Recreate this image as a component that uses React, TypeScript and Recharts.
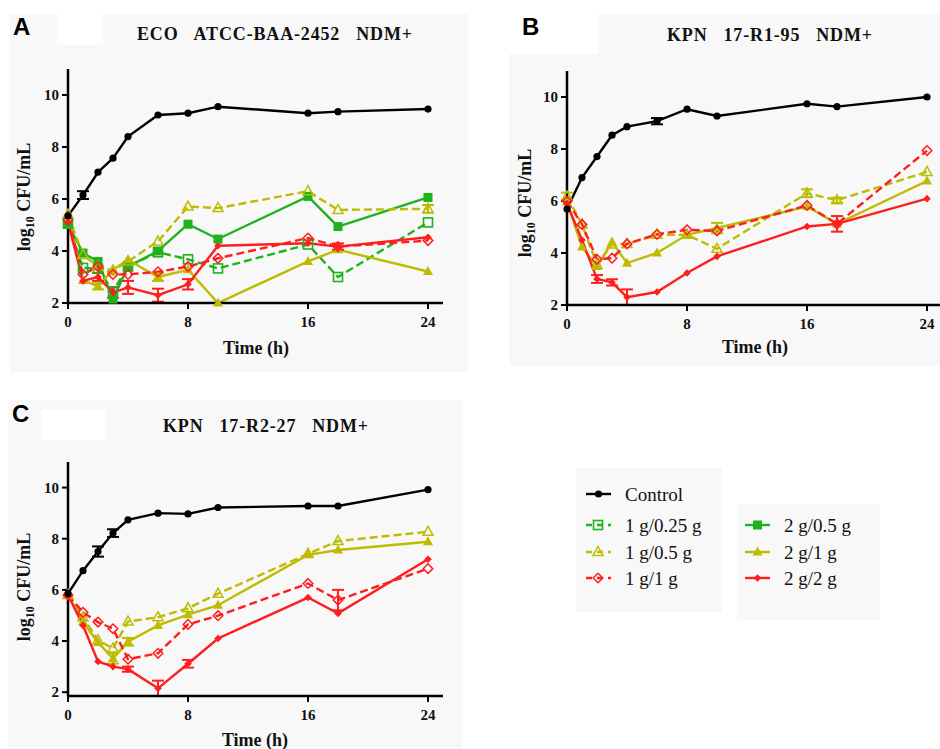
import React from 'react';
import { LineChart, Line, XAxis, YAxis, ErrorBar } from 'recharts';

// ---------- data ----------
const times = [0, 1, 2, 3, 4, 6, 8, 10, 16, 18, 24];
const xTicks = [0, 8, 16, 24];
const yTicks = [2, 4, 6, 8, 10];
const seriesNames = ['Control', '1 g/0.25 g', '1 g/0.5 g', '1 g/1 g', '2 g/0.5 g', '2 g/1 g', '2 g/2 g'];
const panelTitles = ['ECO   ATCC-BAA-2452   NDM+', 'KPN   17-R1-95   NDM+', 'KPN   17-R2-27   NDM+'];

// Panel A (ECO ATCC-BAA-2452)
const aControl = [5.35, 6.15, 7.03, 7.57, 8.4, 9.23, 9.3, 9.55, 9.3, 9.36, 9.46];
const a1g025 = [5.05, 3.35, 3.32, 2.45, 3.4, 3.95, 3.68, 3.33, 4.25, 3.0, 5.1];
const a1g05 = [5.4, 3.85, 3.4, 3.25, 3.6, 4.37, 5.71, 5.65, 6.3, 5.58, 5.62];
const a1g1 = [5.2, 3.1, 3.4, 3.1, 3.1, 3.2, 3.4, 3.72, 4.5, 4.17, 4.4];
const a2g05 = [5.05, 3.92, 3.6, 2.15, 3.4, 4.0, 5.03, 4.46, 6.1, 4.94, 6.06];
const a2g1 = [5.3, 2.87, 2.64, 3.28, 3.66, 3.0, 3.28, 2.0, 3.6, 4.05, 3.21];
const a2g2 = [5.1, 2.85, 3.0, 2.4, 2.6, 2.3, 2.72, 4.2, 4.3, 4.17, 4.53];
const aControlErr = [null, 0.15, null, null, null, null, null, null, null, null, null];
const a1g05Err = [null, null, null, null, null, null, null, null, null, null, 0.15];
const a2g1Err = [null, null, 0.12, null, null, 0.15, null, null, null, null, null];
const a2g2Err = [null, null, 0.15, 0.2, 0.25, 0.25, 0.2, null, null, 0.12, null];

// Panel B (KPN 17-R1-95)
const bControl = [5.69, 6.9, 7.71, 8.53, 8.86, 9.07, 9.53, 9.27, 9.74, 9.63, 10.0];
const b1g05 = [6.17, 5.1, 3.55, 4.33, 4.35, 4.7, 4.7, 4.16, 6.3, 6.03, 7.12];
const b1g1 = [6.0, 5.1, 3.76, 3.8, 4.35, 4.72, 4.89, 4.85, 5.83, 5.12, 7.94];
const b2g1 = [5.95, 4.23, 3.48, 4.42, 3.61, 4.0, 4.7, 4.96, 5.79, 5.12, 6.77];
const b2g2 = [5.9, 4.5, 3.0, 2.87, 2.3, 2.5, 3.23, 3.87, 5.02, 5.12, 6.09];
const bControlErr = [null, null, null, null, null, 0.12, null, null, null, null, null];
const b1g05Err = [0.15, null, null, null, null, null, null, null, 0.15, 0.1, null];
const b2g1Err = [null, null, null, null, null, null, null, 0.2, null, null, null];
const b2g2Err = [null, null, 0.15, 0.12, 0.3, null, null, null, null, 0.3, null];

// Panel C (KPN 17-R2-27)
const cControl = [5.85, 6.75, 7.5, 8.22, 8.74, 9.0, 8.97, 9.22, 9.28, 9.28, 9.92];
const c1g05 = [5.8, 4.93, 4.03, 3.71, 4.76, 4.93, 5.28, 5.85, 7.41, 7.91, 8.27];
const c1g1 = [5.8, 5.12, 4.74, 4.48, 3.29, 3.52, 4.65, 4.99, 6.25, 5.6, 6.83];
const c2g1 = [5.8, 4.74, 3.94, 3.32, 3.97, 4.61, 5.03, 5.4, 7.37, 7.56, 7.88];
const c2g2 = [5.8, 4.61, 3.2, 3.0, 2.9, 2.15, 3.11, 4.1, 5.7, 5.08, 7.2];
const cControlErr = [null, null, 0.2, 0.15, null, null, null, null, null, null, null];
const c1g1Err = [null, null, null, null, null, null, null, null, null, 0.4, null];
const c2g1Err = [null, null, null, 0.2, 0.15, null, null, null, null, null, null];
const c2g2Err = [null, null, null, null, 0.1, 0.3, 0.15, null, null, null, null];

// ---------- styles ----------
const GREEN = '#1fb21f';
const YELLOW = '#bdbc00';
const RED = '#ff1e1e';
const BLACK = '#000000';
const SERIF = '"Liberation Serif", "Times New Roman", serif';
const SANS = '"Liberation Sans", Arial, sans-serif';
const BG = '#f8f8f8';

type Kind = 'circle' | 'square' | 'squareOpen' | 'triangle' | 'triangleOpen' | 'diamond' | 'diamondOpen';
const styleOf: Record<string, { color: string; dashed: boolean; kind: Kind }> = {
  control: { color: BLACK, dashed: false, kind: 'circle' },
  g1q: { color: GREEN, dashed: true, kind: 'squareOpen' },
  g1h: { color: YELLOW, dashed: true, kind: 'triangleOpen' },
  g11: { color: RED, dashed: true, kind: 'diamondOpen' },
  g2h: { color: GREEN, dashed: false, kind: 'square' },
  g21: { color: YELLOW, dashed: false, kind: 'triangle' },
  g22: { color: RED, dashed: false, kind: 'diamond' },
};
const keyOrder = ['control', 'g1q', 'g1h', 'g11', 'g2h', 'g21', 'g22'];

function Marker({ cx, cy, kind, color }: { cx: number; cy: number; kind: Kind; color: string }) {
  if (cx == null || cy == null || isNaN(cx) || isNaN(cy)) return null;
  switch (kind) {
    case 'circle':
      return <circle cx={cx} cy={cy} r={3.6} fill={color} />;
    case 'square':
      return <rect x={cx - 4.5} y={cy - 4.5} width={9} height={9} fill={color} />;
    case 'squareOpen':
      return <rect x={cx - 4.5} y={cy - 4.5} width={9} height={9} fill="none" stroke={color} strokeWidth={1.6} />;
    case 'triangle':
      return <polygon points={`${cx},${cy - 5.5} ${cx + 5},${cy + 3.5} ${cx - 5},${cy + 3.5}`} fill={color} />;
    case 'triangleOpen':
      return <polygon points={`${cx},${cy - 5.5} ${cx + 5},${cy + 3.5} ${cx - 5},${cy + 3.5}`} fill="none" stroke={color} strokeWidth={1.5} />;
    case 'diamond':
      return <polygon points={`${cx},${cy - 3.8} ${cx + 3.8},${cy} ${cx},${cy + 3.8} ${cx - 3.8},${cy}`} fill={color} />;
    case 'diamondOpen':
      return <polygon points={`${cx},${cy - 4.8} ${cx + 4.8},${cy} ${cx},${cy + 4.8} ${cx - 4.8},${cy}`} fill="none" stroke={color} strokeWidth={1.5} />;
  }
  return null;
}

type SeriesDef = { key: string; values: (number | null)[]; err?: (number | null)[] };

function buildRows(series: SeriesDef[]) {
  return times.map((t, i) => {
    const row: Record<string, number | null> = { t };
    series.forEach((s) => {
      row[s.key] = s.values[i];
      row[s.key + 'Err'] = s.err ? s.err[i] : null;
    });
    return row;
  });
}

const tickStyle = { fontFamily: SERIF, fontSize: 15, fontWeight: 700, fill: '#111' };

function Panel({ series, plotLeft, plotTop, plotW, plotH }: { series: SeriesDef[]; plotLeft: number; plotTop: number; plotW: number; plotH: number }) {
  const ml = 68, mt = 10, mr = 10, mb = 40, xh = 30;
  const rows = buildRows(series);
  return (
    <div style={{ position: 'absolute', left: plotLeft - ml, top: plotTop - mt }}>
      <LineChart width={ml + plotW + mr} height={mt + plotH + mb} data={rows} margin={{ top: mt, right: mr, left: 0, bottom: mb - xh }}>
        <XAxis
          dataKey="t"
          type="number"
          domain={[0, 25]}
          ticks={xTicks}
          interval={0}
          height={xh}
          axisLine={{ stroke: '#000', strokeWidth: 2.5 }}
          tickLine={{ stroke: '#000', strokeWidth: 2 }}
          tickSize={6}
          tickMargin={7}
          tick={tickStyle}
        />
        <YAxis
          type="number"
          domain={[2, 11]}
          ticks={yTicks}
          interval={0}
          width={ml}
          axisLine={{ stroke: '#000', strokeWidth: 2.5 }}
          tickLine={{ stroke: '#000', strokeWidth: 2 }}
          tickSize={6}
          tickMargin={3}
          tick={tickStyle}
        />
        {series.map((s) => {
          const st = styleOf[s.key];
          return (
            <Line
              key={s.key}
              dataKey={s.key}
              type="linear"
              stroke={st.color}
              strokeWidth={2.4}
              strokeDasharray={st.dashed ? '8 4' : undefined}
              isAnimationActive={false}
              activeDot={false}
              dot={(p: any) => <Marker key={`${s.key}-${p.index}`} cx={p.cx} cy={p.cy} kind={st.kind} color={st.color} />}
            >
              {s.err ? (
                <ErrorBar dataKey={s.key + 'Err'} width={6} strokeWidth={2} stroke={st.color} direction="y" isAnimationActive={false} />
              ) : null}
            </Line>
          );
        })}
      </LineChart>
    </div>
  );
}

const seriesA: SeriesDef[] = [
  { key: 'g1q', values: a1g025 },
  { key: 'g2h', values: a2g05 },
  { key: 'g21', values: a2g1, err: a2g1Err },
  { key: 'g1h', values: a1g05, err: a1g05Err },
  { key: 'g22', values: a2g2, err: a2g2Err },
  { key: 'g11', values: a1g1 },
  { key: 'control', values: aControl, err: aControlErr },
];
const seriesB: SeriesDef[] = [
  { key: 'g21', values: b2g1, err: b2g1Err },
  { key: 'g1h', values: b1g05, err: b1g05Err },
  { key: 'g22', values: b2g2, err: b2g2Err },
  { key: 'g11', values: b1g1 },
  { key: 'control', values: bControl, err: bControlErr },
];
const seriesC: SeriesDef[] = [
  { key: 'g21', values: c2g1, err: c2g1Err },
  { key: 'g1h', values: c1g05 },
  { key: 'g22', values: c2g2, err: c2g2Err },
  { key: 'g11', values: c1g1, err: c1g1Err },
  { key: 'control', values: cControl, err: cControlErr },
];

function YLabel({ x, y }: { x: number; y: number }) {
  return (
    <text transform={`translate(${x},${y}) rotate(-90)`} textAnchor="middle" fontFamily={SERIF} fontWeight={700} fontSize={18} fill="#111">
      log<tspan fontSize={12} dy={4}>10</tspan>
      <tspan dy={-4}> CFU/mL</tspan>
    </text>
  );
}

function Title({ x, y, w, label }: { x: number; y: number; w: number; label: string }) {
  return (
    <text x={x} y={y} textLength={w} lengthAdjust="spacing" fontFamily={SERIF} fontWeight={700} fontSize={18} fill="#111" style={{ whiteSpace: 'pre' }}>
      {label}
    </text>
  );
}

function LegendItem({ x, y, k, label }: { x: number; y: number; k: string; label: string }) {
  const st = styleOf[k];
  return (
    <g>
      <line x1={x} y1={y} x2={x + 25} y2={y} stroke={st.color} strokeWidth={2.4} strokeDasharray={st.dashed ? '6 5' : undefined} />
      <Marker cx={st.dashed ? x + 12 : x + 12.5} cy={y} kind={st.kind} color={st.color} />
      <text x={x + 39} y={y + 7} fontFamily={SERIF} fontSize={19} fill="#111">{label}</text>
    </g>
  );
}

export default function App() {
  return (
    <div style={{ position: 'absolute', left: 0, top: 0, width: 940, height: 749, overflow: 'hidden', background: '#fff' }}>
      <svg width={940} height={749} style={{ position: 'absolute', left: 0, top: 0 }}>
        <rect x={10} y={14} width={458} height={358} fill={BG} />
        <rect x={57} y={14} width={46} height={31} fill="#fff" />
        <rect x={598} y={14} width={342} height={40} fill={BG} />
        <rect x={509} y={54} width={431} height={312} fill={BG} />
        <rect x={8} y={400} width={454} height={349} fill={BG} />
        <rect x={41} y={410} width={64} height={30} fill="#fff" />
        <rect x={576} y={468} width={146} height={144} fill={BG} />
        <rect x={737} y={504} width={143} height={116} fill={BG} />
      </svg>
      <Panel series={seriesA} plotLeft={68} plotTop={69} plotW={375} plotH={234} />
      <Panel series={seriesB} plotLeft={567} plotTop={71} plotW={375} plotH={234} />
      <Panel series={seriesC} plotLeft={68} plotTop={462} plotW={375} plotH={234} />
      <svg width={940} height={749} style={{ position: 'absolute', left: 0, top: 0, pointerEvents: 'none' }}>
        <text x={13} y={35} fontFamily={SANS} fontWeight={700} fontSize={24} fill="#000">A</text>
        <text x={522} y={35} fontFamily={SANS} fontWeight={700} fontSize={24} fill="#000">B</text>
        <text x={12} y={422} fontFamily={SANS} fontWeight={700} fontSize={24} fill="#000">C</text>
        <Title x={137} y={40} w={275} label={panelTitles[0]} />
        <Title x={667} y={41} w={205} label={panelTitles[1]} />
        <Title x={163} y={432} w={205} label={panelTitles[2]} />
        <YLabel x={30} y={197} />
        <YLabel x={531} y={203} />
        <YLabel x={30} y={587} />
        <text x={256} y={354} textAnchor="middle" fontFamily={SERIF} fontWeight={700} fontSize={18} fill="#111">Time (h)</text>
        <text x={755} y={353} textAnchor="middle" fontFamily={SERIF} fontWeight={700} fontSize={18} fill="#111">Time (h)</text>
        <text x={255} y={746} textAnchor="middle" fontFamily={SERIF} fontWeight={700} fontSize={18} fill="#111">Time (h)</text>
        <LegendItem x={586} y={494} k={keyOrder[0]} label={seriesNames[0]} />
        <LegendItem x={586} y={525} k={keyOrder[1]} label={seriesNames[1]} />
        <LegendItem x={586} y={552} k={keyOrder[2]} label={seriesNames[2]} />
        <LegendItem x={586} y={578} k={keyOrder[3]} label={seriesNames[3]} />
        <LegendItem x={745} y={525} k={keyOrder[4]} label={seriesNames[4]} />
        <LegendItem x={745} y={552} k={keyOrder[5]} label={seriesNames[5]} />
        <LegendItem x={745} y={578} k={keyOrder[6]} label={seriesNames[6]} />
      </svg>
    </div>
  );
}
